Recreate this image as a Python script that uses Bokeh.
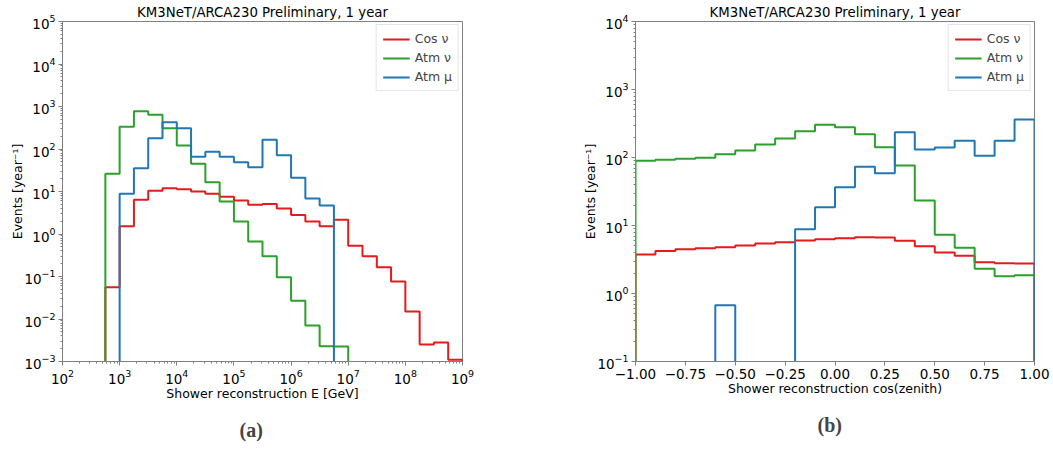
from bokeh.plotting import figure
from bokeh.layouts import row
from bokeh.models import Title, FixedTicker, LogTicker, Legend
from bokeh.embed import file_html
from bokeh.resources import INLINE

# ---------------- data ----------------
# panel (a): log10(E/GeV) bin edges, 0.25 decade bins
log_e_edges = [2.0, 2.25, 2.5, 2.75, 3.0, 3.25, 3.5, 3.75, 4.0, 4.25, 4.5, 4.75,
               5.0, 5.25, 5.5, 5.75, 6.0, 6.25, 6.5, 6.75, 7.0, 7.25, 7.5, 7.75,
               8.0, 8.25, 8.5, 8.75, 9.0]
e_cos_nu = [0, 0, 0, 0.056, 1.53, 6.4, 10.4, 12.0, 11.3, 10.0, 8.8, 7.5,
            6.1, 4.9, 5.1, 4.0, 2.8, 1.97, 1.53, 2.15, 0.53, 0.30, 0.166, 0.076,
            0.015, 0.0025, 0.0028, 0.0011]
e_atm_nu = [0, 0, 0, 26, 333, 776, 637, 309, 121, 45, 16.6, 5.8,
            1.97, 0.67, 0.30, 0.096, 0.027, 0.0070, 0.0023, 0.00225, 0, 0, 0, 0,
            0, 0, 0, 0]
e_atm_mu = [0, 0, 0, 0, 8.8, 35.4, 180, 428, 309, 65.5, 86, 65.5,
            49, 37.3, 164, 71.5, 21, 6.85, 4.7, 0, 0, 0, 0, 0,
            0, 0, 0, 0]

# panel (b): cos(zenith) bin edges
cz_edges = [-1.0, -0.9, -0.8, -0.7, -0.6, -0.5, -0.4, -0.3, -0.2, -0.1, 0.0,
            0.1, 0.2, 0.3, 0.4, 0.5, 0.6, 0.7, 0.8, 0.9, 1.0]
cz_cos_nu = [3.75, 4.2, 4.48, 4.63, 4.8, 5.08, 5.44, 5.69, 6.02, 6.3,
             6.5, 6.73, 6.67, 5.96, 4.96, 4.0, 3.58, 2.89, 2.79, 2.76]
cz_atm_nu = [89.4, 92.5, 95.7, 99, 112, 127, 155, 190, 244, 302,
             279, 220, 142, 76, 23.3, 7.3, 4.7, 2.31, 1.8, 1.86]
cz_atm_mu = [0, 0, 0, 0, 0.67, 0, 0, 0, 8.8, 18.6,
             36.6, 73, 58.7, 236, 131, 140, 176, 106, 176, 362]

x_ticks_b = [-1.0, -0.75, -0.5, -0.25, 0.0, 0.25, 0.5, 0.75, 1.0]
x_tick_labels_b = ["\u22121.00", "\u22120.75", "\u22120.50", "\u22120.25", "0.00",
                   "0.25", "0.50", "0.75", "1.00"]

series_names = ["Cos \u03bd", "Atm \u03bd", "Atm \u03bc"]
colors = ["#e41a1c", "#2ca02c", "#1f77b4"]

FONT = "DejaVu Sans"
GRAY = "#808080"
FLOOR = 1e-9


def step_xy(edges, vals):
    xs = [edges[0]] + list(edges)
    ys = [FLOOR] + [v if v > 0 else FLOOR for v in vals] + [FLOOR]
    return xs, ys


def style(p, xlabel, ylabel, title_text, caption, cap_offset):
    p.title.text = title_text
    p.title.text_font = FONT
    p.title.text_font_size = "13.3px"
    p.title.text_font_style = "normal"
    p.title.align = "center"
    p.title.text_color = "#000000"
    p.title.standoff = 4
    p.outline_line_color = GRAY
    p.outline_line_width = 1
    p.grid.visible = False
    p.background_fill_color = "white"
    p.border_fill_color = "white"
    for ax in [p.xaxis[0], p.yaxis[0]]:
        ax.axis_line_color = GRAY
        ax.major_tick_line_color = GRAY
        ax.minor_tick_line_color = GRAY
        ax.major_tick_in = 0
        ax.major_tick_out = 4
        ax.minor_tick_in = 0
        ax.minor_tick_out = 2
        ax.major_label_text_font = FONT
        ax.major_label_text_font_size = "13.5px"
        ax.major_label_text_color = "#000000"
        ax.major_label_standoff = 3
        ax.axis_label_text_font = FONT
        ax.axis_label_text_font_size = "12.5px"
        ax.axis_label_text_font_style = "normal"
        ax.axis_label_text_color = "#000000"
    p.xaxis[0].axis_label_standoff = -1
    p.yaxis[0].axis_label_standoff = -4
    p.xaxis[0].axis_label = xlabel
    p.yaxis[0].axis_label = ylabel
    p.add_layout(Title(text=caption, align="left", text_font="Liberation Serif",
                       text_font_size="20px", text_font_style="bold",
                       standoff=26, offset=cap_offset), "below")


def add_legend(p, renderers):
    leg = Legend(items=[(n, [r]) for n, r in zip(series_names, renderers)],
                 location="top_right")
    leg.label_text_font = FONT
    leg.label_text_font_size = "12.5px"
    leg.glyph_width = 27
    leg.glyph_height = 14
    leg.label_height = 14
    leg.spacing = 4
    leg.padding = 6
    leg.margin = 3
    leg.border_line_color = "#cccccc"
    leg.background_fill_alpha = 0.85
    p.add_layout(leg)


# ---------------- panel (a) ----------------
e_edges = [10 ** v for v in log_e_edges]
pa = figure(x_axis_type="log", y_axis_type="log", x_range=(1e2, 1e9), y_range=(1e-3, 1e5),
            frame_width=400, frame_height=340, min_border_left=62, min_border_right=65,
            min_border_top=0, min_border_bottom=10,
            output_backend="svg", toolbar_location=None)
rs = []
for vals, c in zip([e_cos_nu, e_atm_nu, e_atm_mu], colors):
    xs, ys = step_xy(e_edges, vals)
    rs.append(pa.step(x=xs, y=ys, mode="after", line_color=c, line_width=2))
pa.xaxis[0].ticker = LogTicker(desired_num_ticks=8, num_minor_ticks=10)
pa.yaxis[0].ticker = LogTicker(desired_num_ticks=9, num_minor_ticks=10)
style(pa, "Shower reconstruction E [GeV]", "Events [year\u207b\u00b9]",
      "KM3NeT/ARCA230 Preliminary, 1 year", "(a)", 177)
add_legend(pa, rs)

# ---------------- panel (b) ----------------
pb = figure(y_axis_type="log", x_range=(-1, 1), y_range=(1e-1, 1e4),
            frame_width=399, frame_height=340, min_border_left=108, min_border_right=19,
            min_border_top=0, min_border_bottom=10,
            output_backend="svg", toolbar_location=None)
rs = []
for vals, c in zip([cz_cos_nu, cz_atm_nu, cz_atm_mu], colors):
    xs, ys = step_xy(cz_edges, vals)
    rs.append(pb.step(x=xs, y=ys, mode="after", line_color=c, line_width=2))
pb.xaxis[0].ticker = FixedTicker(ticks=x_ticks_b, minor_ticks=[])
pb.xaxis[0].major_label_overrides = {t: l for t, l in zip(x_ticks_b, x_tick_labels_b)}
pb.yaxis[0].ticker = LogTicker(desired_num_ticks=6, num_minor_ticks=10)
style(pb, "Shower reconstruction cos(zenith)", "Events [year\u207b\u00b9]",
      "KM3NeT/ARCA230 Preliminary, 1 year", "(b)", 182)
add_legend(pb, rs)

layout = row(pa, pb)
open("out.html", "w").write(file_html(layout, INLINE))
